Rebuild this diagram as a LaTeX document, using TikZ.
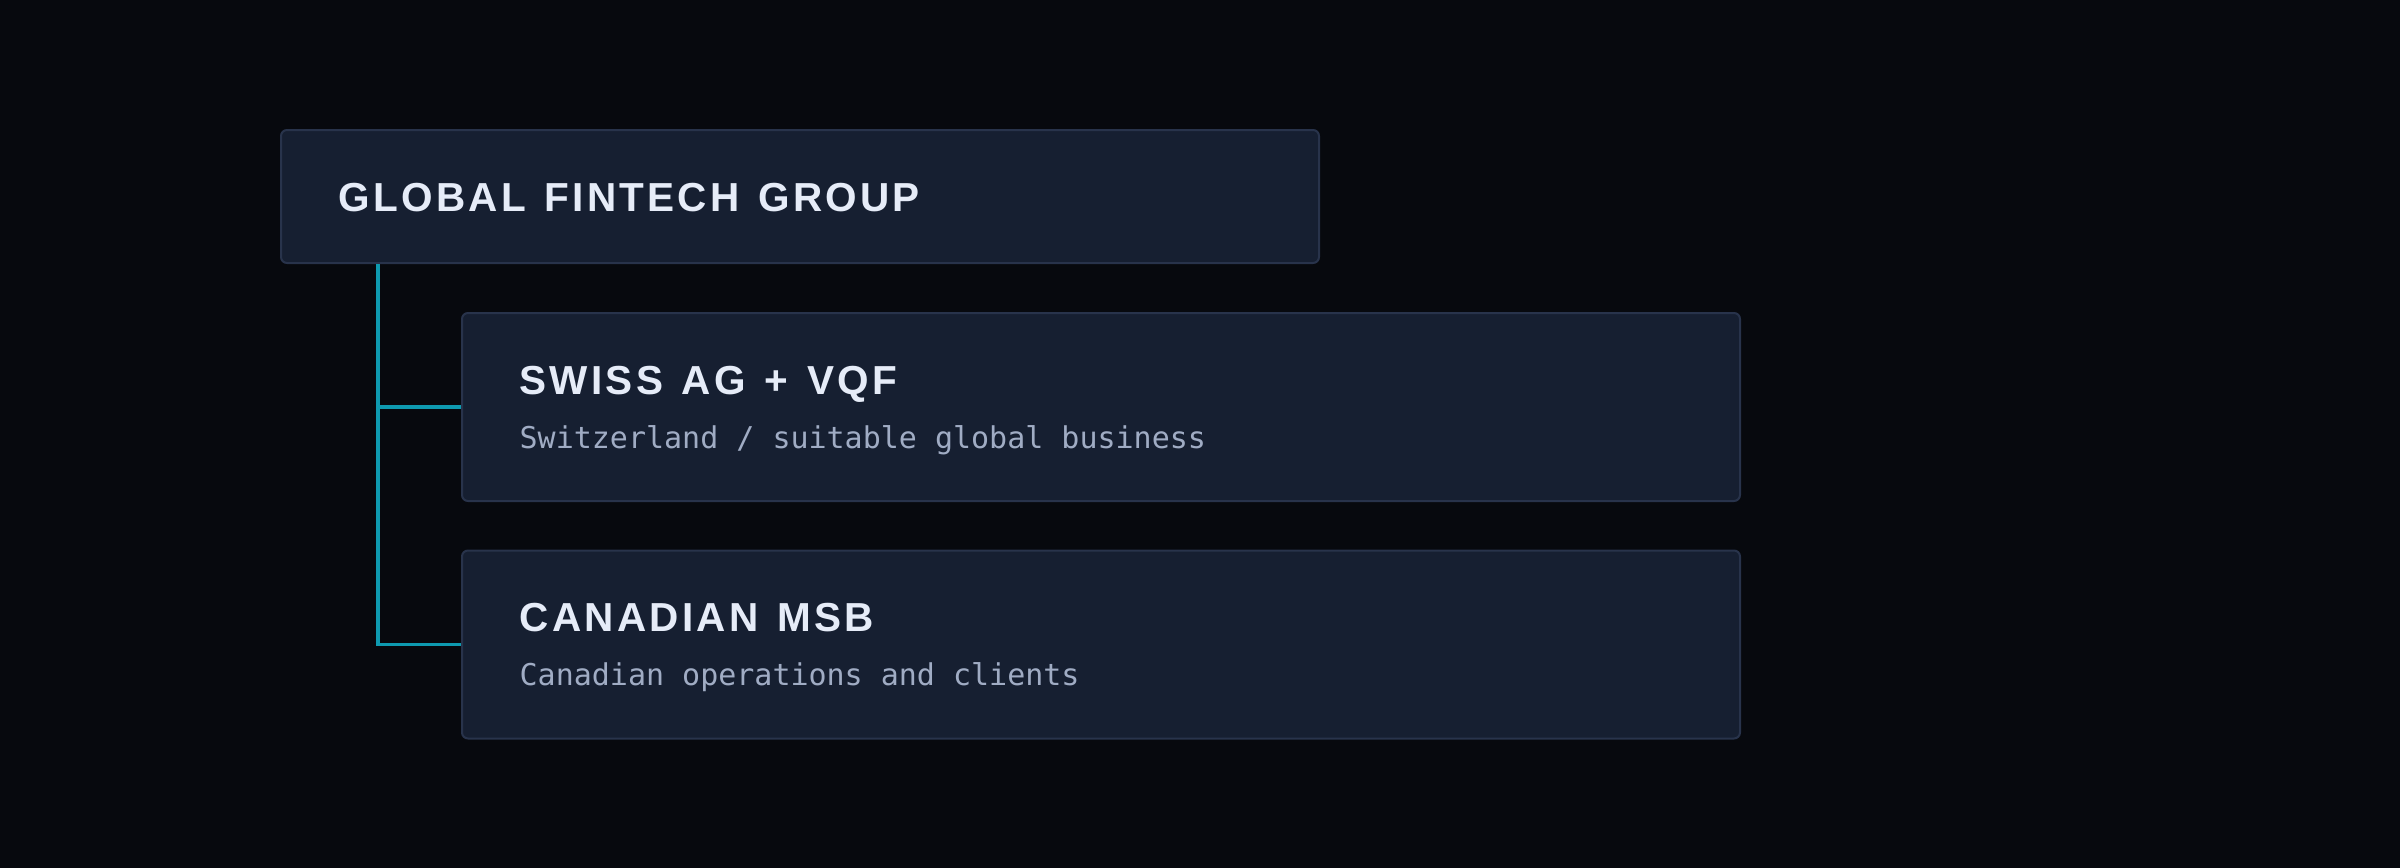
\documentclass[tikz,border=0pt]{standalone}
\usepackage{fontspec}
\setmainfont{Liberation Sans}
\newfontfamily\titlefont[LetterSpace=8,WordSpace=1.3]{Liberation Sans Bold}
\newfontfamily\monofont{DejaVu Sans Mono}
\definecolor{bgc}{HTML}{07090E}
\definecolor{boxfill}{HTML}{161F31}
\definecolor{boxline}{HTML}{28334B}
\definecolor{teal}{HTML}{0E9AB0}
\definecolor{titlec}{HTML}{E6ECF8}
\definecolor{subc}{HTML}{A0ACC4}
\tikzset{
  card/.style={draw=boxline, line width=0.6pt, fill=boxfill, rounded corners=1.8pt, inner sep=0pt},
  ttl/.style={anchor=base west, inner sep=0pt, text=titlec, font=\titlefont\fontsize{12.15}{14}\selectfont},
  sub/.style={anchor=base west, inner sep=0pt, text=subc, font=\monofont\fontsize{9}{11}\selectfont},
  conn/.style={draw=teal, line width=1.05pt}
}
\begin{document}
\begin{tikzpicture}[x=0.3pt,y=-0.3pt]
\fill[bgc] (0,0) rectangle (2400,868);
\useasboundingbox (0,0) rectangle (2400,868);
% cards
\node[card, minimum width=311.4pt, minimum height=39.9pt, anchor=north west] (top) at (280,129) {};
\node[card, minimum width=383.4pt, minimum height=56.4pt, anchor=north west] (swiss) at (461,312) {};
\node[card, minimum width=383.4pt, minimum height=56.4pt, anchor=north west] (cad) at (461,549.5) {};
% texts
\node[ttl] (topt) at (338,211) {GLOBAL FINTECH GROUP};
\node[ttl] (swisst) at (519,394) {SWISS AG + VQF};
\node[sub] (swisss) at (519,448) {Switzerland / suitable global business};
\node[ttl] (cadt) at (519,631.5) {CANADIAN MSB};
\node[sub] (cads) at (519,685.5) {Canadian operations and clients};
% connectors
\coordinate (spine) at (378,0);
\draw[conn] (spine |- top.south) |- (swiss.west);
\draw[conn] (spine |- top.south) |- (cad.west);
\end{tikzpicture}
\end{document}
